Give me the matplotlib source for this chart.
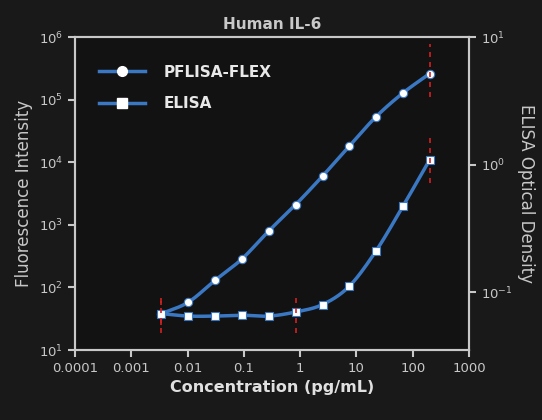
import numpy as np
import matplotlib
matplotlib.use("Agg")
import matplotlib.pyplot as plt

conc = [0.00343, 0.0103, 0.0309, 0.0926, 0.278, 0.833, 2.5, 7.41, 22.2, 66.7, 200]
pflisa = [38, 58, 130, 285, 800, 2100, 6000, 18000, 53000, 127000, 260000]
elisa = [0.068, 0.065, 0.065, 0.066, 0.065, 0.070, 0.080, 0.111, 0.21, 0.47, 1.09]
pf_err = {0: (25, 60), 10: (110000, 780000)}
el_err = {0: (0.048, 0.095), 5: (0.048, 0.095), 10: (0.72, 1.69)}

bg = "#191919"
axbg = "#121212"
fg = "#c8c8c8"
blue = "#3b78c4"

def smooth(x, y, n=20):
    lx, ly = np.log10(x), np.log10(y)
    X, Y = [], []
    p = np.concatenate([[2*lx[0]-lx[1]], lx, [2*lx[-1]-lx[-2]]])
    q = np.concatenate([[2*ly[0]-ly[1]], ly, [2*ly[-1]-ly[-2]]])
    for i in range(1, len(p)-2):
        t = np.linspace(0, 1, n, endpoint=False)
        for arr, out in ((p, X), (q, Y)):
            a0, a1, a2, a3 = arr[i-1], arr[i], arr[i+1], arr[i+2]
            out.extend(0.5*((2*a1) + (-a0+a2)*t + (2*a0-5*a1+4*a2-a3)*t**2 + (-a0+3*a1-3*a2+a3)*t**3))
    X.append(lx[-1]); Y.append(ly[-1])
    return 10**np.array(X), 10**np.array(Y)

fig = plt.figure(figsize=(5.42, 4.20), dpi=100, facecolor=bg)
ax = fig.add_axes([75/542, 1-350/420, (469-75)/542, (350-37)/420])
ax.set_facecolor(axbg)
ax2 = ax.twinx()
for a in (ax, ax2):
    for s in a.spines.values():
        s.set_color(fg); s.set_linewidth(1.5)
    a.tick_params(colors=fg, labelsize=9.5, width=1.5, length=5, which="major")
    a.tick_params(which="minor", length=0)
ax.set_xscale("log"); ax.set_yscale("log"); ax2.set_yscale("log")
ax.set_xlim(1e-4, 1e3); ax.set_ylim(10, 1e6)
ax2.set_ylim(10**-1.453, 10)
ax.set_xticks([1e-4, 1e-3, 1e-2, 1e-1, 1, 10, 100, 1000])
ax.set_xticklabels(["0.0001", "0.001", "0.01", "0.1", "1", "10", "100", "1000"])
ax2.set_yticks([0.1, 1, 10])

sx, sy = smooth(conc, pflisa)
ax.plot(sx, sy, color=blue, lw=2.5, zorder=3)
ax.plot(conc, pflisa, "o", color="white", ms=6, mec=blue, mew=0.8, zorder=4)
for i, (lo, hi) in pf_err.items():
    ax.plot([conc[i]]*2, [lo, hi], color="#d42020", ls=(0, (3, 3)), lw=1.2, zorder=5)
sx, sy = smooth(conc, elisa)
ax2.plot(sx, sy, color=blue, lw=2.5, zorder=3)
ax2.plot(conc, elisa, "s", color="white", ms=6, mec=blue, mew=0.8, zorder=4)
for i, (lo, hi) in el_err.items():
    ax2.plot([conc[i]]*2, [lo, hi], color="#d42020", ls=(0, (3, 3)), lw=1.2, zorder=5)

ax.plot([], [], "-o", color=blue, mfc="white", mec="white", lw=2.5, ms=7, label="PFLISA-FLEX")
ax.plot([], [], "-s", color=blue, mfc="white", mec="white", lw=2.5, ms=7, label="ELISA")
leg = ax.legend(loc="upper left", frameon=False, fontsize=11, handlelength=3,
                labelspacing=1.1, borderaxespad=1.2, bbox_to_anchor=(0.0, 0.99),
                handletextpad=1.2)
for t in leg.get_texts():
    t.set_color("#e8e8e8"); t.set_fontweight("bold")

ax.set_xlabel("Concentration (pg/mL)", color="#e0e0e0", fontsize=11.5, fontweight="bold")
ax.set_ylabel("Fluorescence Intensity", color=fg, fontsize=12)
ax2.set_ylabel("ELISA Optical Density", color=fg, fontsize=12, rotation=270, labelpad=16)
ax.set_title("Human IL-6", color=fg, fontsize=11, fontweight="bold", pad=6)
fig.savefig("out.png", dpi=100, facecolor=bg)
